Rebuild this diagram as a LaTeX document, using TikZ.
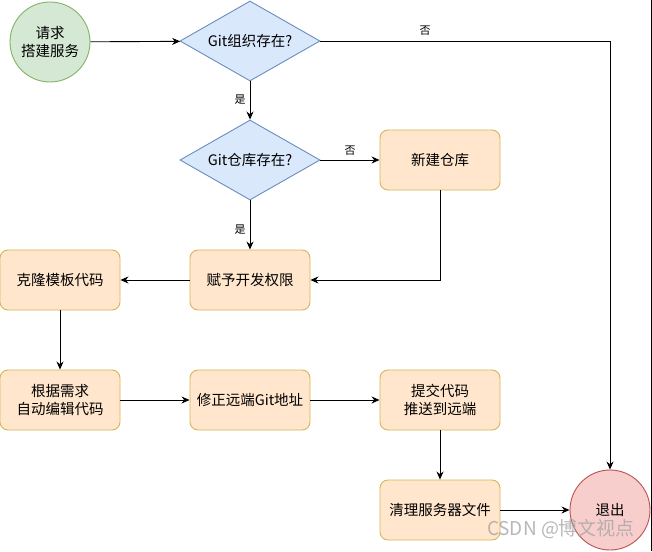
\documentclass[tikz,border=0pt]{standalone}
\usepackage{fontspec}
\setmainfont{Noto Sans CJK SC}
\usetikzlibrary{shapes.geometric,arrows.meta}
\definecolor{gfill}{HTML}{D5E8D4}
\definecolor{gline}{HTML}{82B366}
\definecolor{bfill}{HTML}{DAE8FC}
\definecolor{bline}{HTML}{6C8EBF}
\definecolor{ofill}{HTML}{FFE6CC}
\definecolor{oline}{HTML}{D6B656}
\definecolor{rfill}{HTML}{F8CECC}
\definecolor{rline}{HTML}{B85450}
\begin{document}
\begin{tikzpicture}[x=1pt,y=-1pt,
  every node/.style={font=\fontsize{14.5}{18}\selectfont, align=center},
  startc/.style={circle, draw=gline, fill=gfill, line width=0.9pt, minimum size=80pt, inner sep=0pt},
  endc/.style={circle, draw=rline, fill=rfill, line width=0.9pt, minimum size=80pt, inner sep=0pt},
  decide/.style={diamond, draw=bline, fill=bfill, line width=0.9pt, minimum width=140pt, minimum height=80pt, aspect=1.75, inner sep=0pt},
  proc/.style={rectangle, rounded corners=8pt, draw=oline, fill=ofill, line width=0.9pt, minimum width=120pt, minimum height=60pt, inner sep=2pt},
  conn/.style={draw=black, line width=0.9pt, -{Stealth[length=8pt,width=7pt]}},
  lbl/.style={font=\fontsize{11}{13}\selectfont, fill=white, inner sep=1pt}
]
\useasboundingbox (0,0) rectangle (652,551);
\fill[white] (0,0) rectangle (652,551);
\node[startc] (start) at (50,42) {请求\\搭建服务};
\node[decide] (d1) at (250,41) {Git组织存在?};
\node[decide] (d2) at (250,160) {Git仓库存在?};
\node[proc] (newrepo) at (440,160) {新建仓库};
\node[proc] (grant) at (250,280) {赋予开发权限};
\node[proc] (clone) at (60,280) {克隆模板代码};
\node[proc] (edit) at (60,400) {根据需求\\自动编辑代码};
\node[proc] (fix) at (250,400) {修正远端Git地址};
\node[proc] (push) at (440,400) {提交代码\\推送到远端};
\node[proc] (clean) at (440,510) {清理服务器文件};
\node[endc] (exit) at (610,510) {退出};
\coordinate (c1) at (610,41);
\coordinate (c2) at (440,280);

\draw[conn] (start) -- (d1);
\draw[conn] (d1.east) -- (c1) -- (exit.north);
\node[lbl] (no1) at (425,31) {否};
\draw[conn] (d1.south) -- (d2.north);
\node[lbl] (yes1) at (240,100) {是};
\draw[conn] (d2.east) -- (newrepo.west);
\node[lbl] (no2) at (350,151) {否};
\draw[conn] (d2.south) -- (grant.north);
\node[lbl] (yes2) at (240,230) {是};
\draw[conn] (newrepo.south) -- (c2) -- (grant.east);
\draw[conn] (grant) -- (clone);
\draw[conn] (clone) -- (edit);
\draw[conn] (edit) -- (fix);
\draw[conn] (fix) -- (push);
\draw[conn] (push) -- (clean);
\draw[conn] (clean) -- (exit);
\node[text=gray!70, font=\fontsize{19}{22}\selectfont, opacity=0.8] (wm) at (561,529) {CSDN @博文视点};
\draw[line width=1pt] (651,0) -- (651,551);
\end{tikzpicture}
\end{document}
